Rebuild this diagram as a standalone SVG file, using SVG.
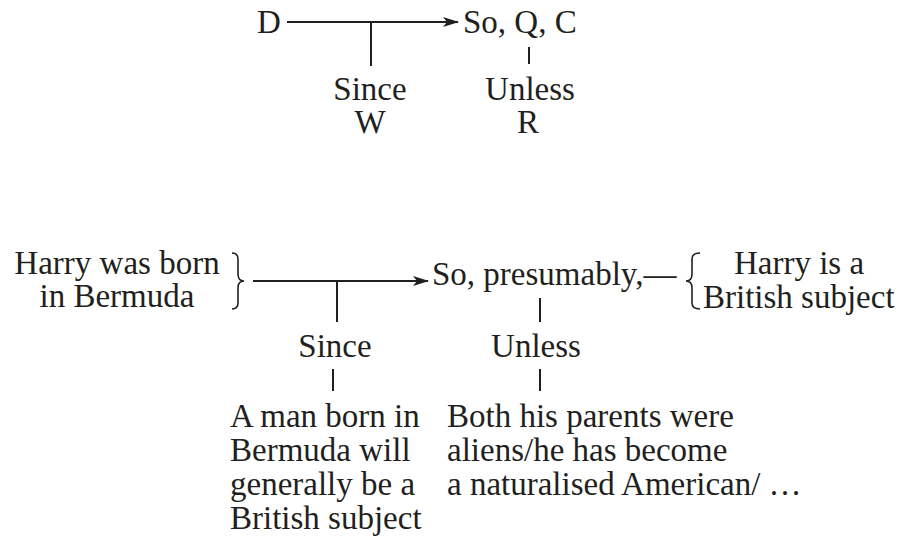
<svg xmlns="http://www.w3.org/2000/svg" width="898" height="545" viewBox="0 0 898 545">
<defs>
<style>
text{font-family:"Liberation Serif","Times New Roman",serif;font-size:33px;fill:#231f20}
.c{text-anchor:middle}
.ln{stroke:#231f20;stroke-width:2;fill:none}
.br{stroke:#231f20;stroke-width:1.6;fill:none}
</style>
<marker id="ah" markerWidth="16" markerHeight="10" refX="15" refY="5" orient="auto" markerUnits="userSpaceOnUse">
<path d="M0,0 L16,5 L0,10 L4,5 Z" fill="#231f20"/>
</marker>
</defs>
<rect width="898" height="545" fill="#fff"/>
<g id="connectors">
<line class="ln" x1="287" y1="22" x2="458" y2="22" marker-end="url(#ah)"/>
<line class="ln" x1="371" y1="22" x2="371" y2="66"/>
<line class="ln" x1="529" y1="47" x2="529" y2="64"/>
<line class="ln" x1="253" y1="281" x2="428" y2="281" marker-end="url(#ah)"/>
<line class="ln" x1="337" y1="281" x2="337" y2="322"/>
<line class="ln" x1="540" y1="298" x2="540" y2="322"/>
<line class="ln" x1="333" y1="369" x2="333" y2="391"/>
<line class="ln" x1="540" y1="369" x2="540" y2="391"/>
</g>
<g id="D"><text x="257" y="33">D</text></g>
<g id="C"><text x="463" y="33">So, Q, C</text></g>
<g id="W"><text class="c" x="370" y="100">Since</text><text class="c" x="370" y="133">W</text></g>
<g id="R"><text class="c" x="530" y="100">Unless</text><text class="c" x="528" y="133">R</text></g>
<g id="data">
<text class="c" x="117" y="274">Harry was born</text>
<text class="c" x="117" y="307">in Bermuda</text>
<path class="br" d="M232,253 Q238,253 238,259 L238,274 Q238,281 244,281 Q238,281 238,288 L238,303 Q238,309 232,309"/>
</g>
<g id="claim">
<text x="432" y="285">So, presumably,—</text>
<path class="br" d="M700,253 Q692,253 692,259 L692,274 Q692,281 686,281 Q692,281 692,288 L692,303 Q692,309 700,309"/>
<text class="c" x="799" y="274">Harry is a</text>
<text x="703" y="308">British subject</text>
</g>
<g id="warrant">
<text class="c" x="335" y="357">Since</text>
<text x="230" y="427">A man born in</text>
<text x="230" y="461">Bermuda will</text>
<text x="230" y="495">generally be a</text>
<text x="230" y="529">British subject</text>
</g>
<g id="rebuttal">
<text class="c" x="536" y="357">Unless</text>
<text x="447" y="427">Both his parents were</text>
<text x="447" y="461">aliens/he has become</text>
<text x="447" y="495">a naturalised American/ …</text>
</g>
</svg>
